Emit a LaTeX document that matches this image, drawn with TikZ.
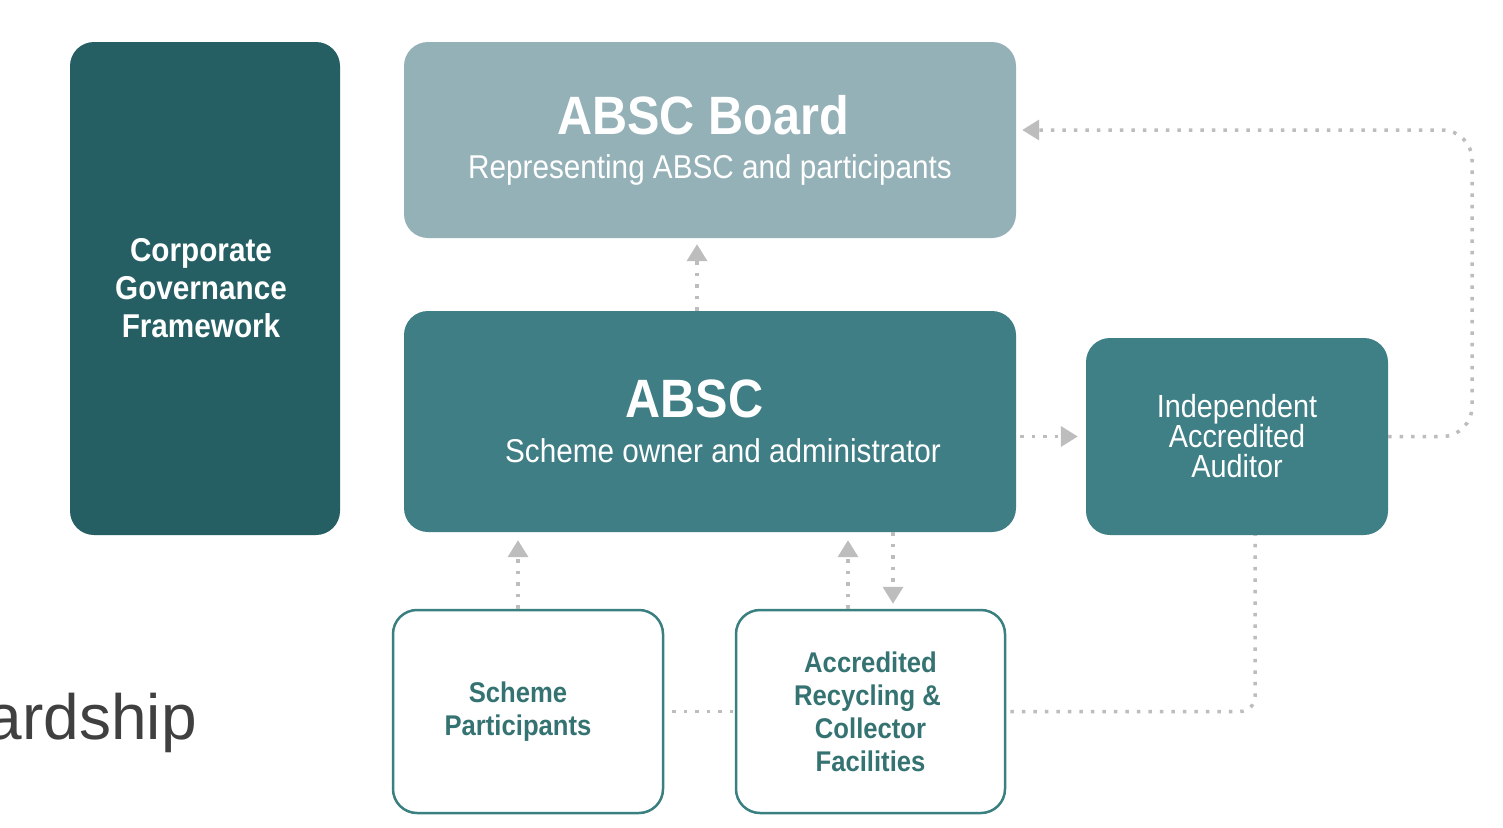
\documentclass[tikz,border=0pt]{standalone}
\usepackage{fontspec}
\setmainfont{Liberation Sans}[FakeStretch=0.9]
\newfontfamily\arialfont{Liberation Sans}
\usetikzlibrary{arrows.meta,calc}
\definecolor{corp}{HTML}{255F64}
\definecolor{boardc}{HTML}{95B1B8}
\definecolor{absc}{HTML}{3F7E85}
\definecolor{audc}{HTML}{3F8087}
\definecolor{outl}{HTML}{3B8080}
\definecolor{outtext}{HTML}{357372}
\definecolor{arrowgray}{HTML}{BDBDBD}
\definecolor{textgray}{HTML}{404040}
\begin{document}
\begin{tikzpicture}[x=1pt,y=-1pt,
  box/.style={rectangle, rounded corners=24pt, inner sep=0pt, align=center, text=white},
  outbox/.style={rectangle, rounded corners=24pt, inner sep=0pt, align=center, draw=outl, line width=2.5pt, fill=white, text=outtext, font=\fontsize{28.5}{33}\selectfont\bfseries},
  conn/.style={draw=arrowgray, line width=3.5pt, dash pattern=on 3.5pt off 8pt},
  tip/.style={-{Triangle[width=20pt,length=17pt]}}
]
\useasboundingbox (0,0) rectangle (1503,827);
\fill[white] (0,0) rectangle (1503,827);

\node[box, fill=corp, minimum width=270pt, minimum height=493pt, font=\fontsize{33}{38}\selectfont\bfseries] (corp) at (205,288.5)
  {\hspace*{-8pt}Corporate\\\hspace*{-8pt}Governance\\\hspace*{-8pt}Framework};

\node[box, fill=boardc, minimum width=612pt, minimum height=196pt, font=\fontsize{33}{44}\selectfont] (board) at (710,140)
  {\fontsize{54}{44}\selectfont\bfseries\hspace*{-14pt}ABSC Board\\ \fontsize{33}{44}\selectfont\mdseries Representing ABSC and participants};

\node[box, fill=absc, minimum width=612pt, minimum height=221pt, font=\fontsize{33}{45}\selectfont] (absc) at (710,421.5)
  {\fontsize{54}{45}\selectfont\bfseries\hspace*{-31pt}ABSC\\ \fontsize{33}{45}\selectfont\mdseries\hspace*{26pt}Scheme owner and administrator};

\node[box, fill=audc, minimum width=302pt, minimum height=197pt, font=\fontsize{32}{30}\selectfont] (auditor) at (1237,436.5) {Independent\\Accredited\\Auditor};

\node[outbox, minimum width=270pt, minimum height=203pt] (sp) at (528,711.5) {\hspace*{-20pt}Scheme\\\hspace*{-20pt}Participants};
\node[outbox, minimum width=269pt, minimum height=203pt] (ar) at (870.5,711.5) {Accredited\\\hspace*{-6pt}Recycling \&\\Collector\\Facilities};

\node[anchor=base east, inner sep=0pt, text=textgray, font=\arialfont\fontsize{64}{70}\selectfont] (title) at (197,739) {ardship};

% connectors
\draw[conn, tip] ([xshift=-13pt]absc.north) -- ([xshift=-13pt,yshift=-6pt]board.south);
\draw[conn, tip] ($(absc.east |- auditor.west)+(4,0)$) -- ($(auditor.west)+(-8,0)$);
\coordinate (cornerA) at (1472,130);
\draw[conn, tip, rounded corners=30pt] (auditor.east) -| (cornerA) -- ($(board.east |- cornerA)+(6,0)$);
\draw[conn, tip] ([xshift=-10pt]sp.north) -- ($(sp.north |- absc.south)+(-10,8)$);
\draw[conn, tip] ([xshift=-22.5pt]ar.north) -- ($(ar.north |- absc.south)+(-22.5,8)$);
\draw[conn, tip] ($(ar.north |- absc.south)+(22.5,0)$) -- ($(ar.north)+(22.5,-5)$);
\draw[conn] ($(sp.east)+(8,0)$) -- ($(ar.west)+(-2,0)$);
\draw[conn, rounded corners=15pt] ($(ar.east)+(4,0)$) -| ($(auditor.south)+(18,0)$);
\end{tikzpicture}
\end{document}
